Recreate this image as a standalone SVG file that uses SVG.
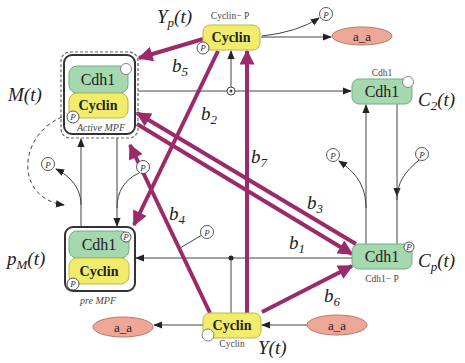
<svg xmlns="http://www.w3.org/2000/svg" width="465" height="363" viewBox="0 0 465 363">
<style>
text{font-family:"Liberation Serif","DejaVu Serif",serif;fill:#222}
.math{font-style:italic;font-size:19px}
.bl{font-style:italic;font-size:19px}
.cdh{font-size:16px;text-anchor:middle}
.cyc{font-size:14px;font-weight:bold;text-anchor:middle}
.sm{font-size:9.5px;text-anchor:middle;fill:#444}
.it{font-style:italic;font-size:10px;text-anchor:middle;fill:#444}
.pt{font-style:italic;font-size:9px;text-anchor:middle;fill:#333}
.green{fill:#a6d8b0;stroke:#6fae80;stroke-width:1}
.yellow{fill:#f1ec6c;stroke:#bdb64a;stroke-width:1}
.aa{fill:#eea796;stroke:#b57a6a;stroke-width:1}
.pc{fill:#fff;stroke:#444;stroke-width:0.9}
.wc{fill:#fff;stroke:#777;stroke-width:0.9}
.thin{fill:none;stroke:#444;stroke-width:1}
.mag{fill:none;stroke:#9b2a6a;stroke-width:4}
</style>
<defs>
<marker id="ah" viewBox="0 0 10 10" refX="9" refY="5" markerWidth="9" markerHeight="9" markerUnits="userSpaceOnUse" orient="auto">
<path d="M0,1 L10,5 L0,9 z" fill="#222"/>
</marker>
<marker id="mh" viewBox="0 0 10 10" refX="9" refY="5" markerWidth="17" markerHeight="15" markerUnits="userSpaceOnUse" orient="auto">
<path d="M0,0 L10,5 L0,10 z" fill="#9b2a6a"/>
</marker>
</defs>

<g id="connectors">
<line class="thin" x1="138" y1="91" x2="351" y2="91" marker-end="url(#ah)"/>
<line class="thin" x1="231" y1="87" x2="231" y2="51" marker-end="url(#ah)"/>
<circle cx="231" cy="91" r="4" fill="#fff" stroke="#444" stroke-width="1"/>
<circle cx="231" cy="91" r="1.5" fill="#444"/>
<line class="thin" x1="261" y1="37" x2="331" y2="37" marker-end="url(#ah)"/>
<path class="thin" d="M262 36 Q298 32 319 18" marker-end="url(#ah)"/>
<line class="thin" x1="366" y1="244" x2="366" y2="105" marker-end="url(#ah)"/>
<path class="thin" d="M366 208 C366 185 355 172 339 161" marker-end="url(#ah)"/>
<line class="thin" x1="397" y1="104" x2="397" y2="196" marker-end="url(#ah)"/>
<line class="thin" x1="397" y1="194" x2="397" y2="244"/>
<path class="thin" d="M419 160 C405 172 397 182 397 200"/>
<line class="thin" x1="352" y1="258" x2="136" y2="258" marker-end="url(#ah)"/>
<circle cx="231" cy="258" r="2.5" fill="#222"/>
<line class="thin" x1="231" y1="258" x2="231" y2="313"/>
<line class="thin" x1="203" y1="325" x2="154" y2="325" marker-end="url(#ah)"/>
<line class="thin" x1="307" y1="325" x2="262" y2="325" marker-end="url(#ah)"/>
<line class="thin" x1="81" y1="227" x2="81" y2="139" marker-end="url(#ah)"/>
<path class="thin" d="M81 205 C81 188 70 176 56 169" marker-end="url(#ah)"/>
<line class="thin" x1="117" y1="138" x2="117" y2="226" marker-end="url(#ah)"/>
<path class="thin" d="M139 173 C124 180 117 192 117 208"/>
<path class="thin" d="M62 117 C18 135 14 198 64 205" stroke-dasharray="4,3" marker-end="url(#ah)"/>
<line class="thin" x1="180" y1="248" x2="202" y2="235"/>

<line class="mag" x1="203" y1="39" x2="139" y2="58" marker-end="url(#mh)"/>
<line class="mag" x1="218" y1="51" x2="134" y2="225" marker-end="url(#mh)"/>
<line class="mag" x1="247" y1="313" x2="247" y2="51" marker-end="url(#mh)"/>
<line class="mag" x1="210" y1="313" x2="130" y2="145" marker-end="url(#mh)"/>
<line class="mag" x1="356" y1="244" x2="137" y2="113" marker-end="url(#mh)"/>
<line class="mag" x1="137" y1="124" x2="352" y2="254" marker-end="url(#mh)"/>
<line class="mag" x1="262" y1="312" x2="352" y2="266" marker-end="url(#mh)"/>

<circle class="pc" cx="326" cy="14" r="6.5"/><text class="pt" x="326" y="17.5">P</text>
<circle class="pc" cx="333" cy="155" r="6.5"/><text class="pt" x="333" y="158.5">P</text>
<circle class="pc" cx="422" cy="154" r="6.5"/><text class="pt" x="422" y="157.5">P</text>
<circle class="pc" cx="48" cy="164" r="6.5"/><text class="pt" x="48" y="167.5">P</text>
<circle class="pc" cx="143" cy="167" r="6.5"/><text class="pt" x="143" y="170.5">P</text>
<circle class="pc" cx="207" cy="232" r="6.5"/><text class="pt" x="207" y="235.5">P</text>

<text class="bl" x="172" y="72">b<tspan font-size="13" dy="4">5</tspan></text>
<text class="bl" x="201" y="120">b<tspan font-size="13" dy="4">2</tspan></text>
<text class="bl" x="251" y="163">b<tspan font-size="13" dy="4">7</tspan></text>
<text class="bl" x="169" y="220">b<tspan font-size="13" dy="4">4</tspan></text>
<text class="bl" x="307" y="209">b<tspan font-size="13" dy="4">3</tspan></text>
<text class="bl" x="289" y="249">b<tspan font-size="13" dy="4">1</tspan></text>
<text class="bl" x="324" y="302">b<tspan font-size="13" dy="4">6</tspan></text>
</g>

<g id="active-mpf">
<rect x="61" y="52" width="77" height="86" rx="9" fill="none" stroke="#666" stroke-width="1.2" stroke-dasharray="3,2"/>
<rect x="64" y="55" width="71" height="79" rx="8" fill="#fff" stroke="#333" stroke-width="2"/>
<rect class="green" x="69" y="66" width="59" height="27" rx="8"/>
<text class="cdh" x="98" y="85">Cdh1</text>
<rect class="yellow" x="69" y="93" width="59" height="25" rx="8"/>
<text class="cyc" x="98" y="110">Cyclin</text>
<circle class="wc" cx="126" cy="69" r="5.5"/>
<circle class="pc" cx="73" cy="117" r="6"/><text class="pt" x="73" y="120">P</text>
<text class="it" x="101" y="131">Active MPF</text>
<text class="math" x="8" y="101">M(t)</text>
</g>

<g id="pre-mpf">
<rect x="65" y="227" width="70" height="64" rx="8" fill="#fff" stroke="#333" stroke-width="2"/>
<rect class="green" x="69" y="231" width="60" height="27" rx="8"/>
<text class="cdh" x="99" y="250">Cdh1</text>
<rect class="yellow" x="69" y="258" width="60" height="26" rx="8"/>
<text class="cyc" x="99" y="276">Cyclin</text>
<circle class="pc" cx="126" cy="237" r="5"/><text class="pt" x="126" y="240" font-size="7">P</text>
<circle class="pc" cx="73" cy="284" r="6"/><text class="pt" x="73" y="287">P</text>
<text class="it" x="98" y="304">pre MPF</text>
<text class="math" x="7" y="265">p<tspan font-size="13" dy="4">M</tspan><tspan dy="-4">(t)</tspan></text>
</g>

<g id="yp">
<rect class="yellow" x="203" y="25" width="57" height="25" rx="7"/>
<text class="cyc" x="231" y="42">Cyclin</text>
<text class="sm" x="230" y="19">Cyclin− P</text>
<circle class="pc" cx="203" cy="48" r="6"/><text class="pt" x="203" y="51">P</text>
<text class="math" x="157" y="23">Y<tspan font-size="13" dy="4">p</tspan><tspan dy="-4">(t)</tspan></text>
</g>

<g id="c2">
<rect class="green" x="352" y="79" width="60" height="25" rx="7"/>
<text class="cdh" x="382" y="97">Cdh1</text>
<text class="sm" x="382" y="76">Cdh1</text>
<circle class="wc" cx="408" cy="82" r="5.5"/>
<text class="math" x="418" y="106">C<tspan font-size="13" dy="4">2</tspan><tspan dy="-4">(t)</tspan></text>
</g>

<g id="cp">
<rect class="green" x="352" y="244" width="60" height="25" rx="7"/>
<text class="cdh" x="382" y="262">Cdh1</text>
<circle class="pc" cx="409" cy="247" r="5"/><text class="pt" x="409" y="250" font-size="7">P</text>
<text class="sm" x="382" y="282" font-size="10">Cdh1− P</text>
<text class="math" x="418" y="267">C<tspan font-size="13" dy="4">p</tspan><tspan dy="-4">(t)</tspan></text>
</g>

<g id="y">
<rect class="yellow" x="203" y="313" width="58" height="25" rx="7"/>
<text class="cyc" x="232" y="330">Cyclin</text>
<circle class="wc" cx="208" cy="335" r="6"/>
<text class="sm" x="232" y="347">Cyclin</text>
<text class="math" x="258" y="354">Y(t)</text>
</g>

<g id="aa-top"><ellipse class="aa" cx="362" cy="36" rx="30" ry="9"/><text x="362" y="41" font-size="13" text-anchor="middle">a_a</text></g>
<g id="aa-left"><ellipse class="aa" cx="123" cy="327" rx="30" ry="10"/><text x="123" y="332" font-size="13" text-anchor="middle">a_a</text></g>
<g id="aa-right"><ellipse class="aa" cx="337" cy="325" rx="30" ry="10"/><text x="337" y="330" font-size="13" text-anchor="middle">a_a</text></g>
</svg>
